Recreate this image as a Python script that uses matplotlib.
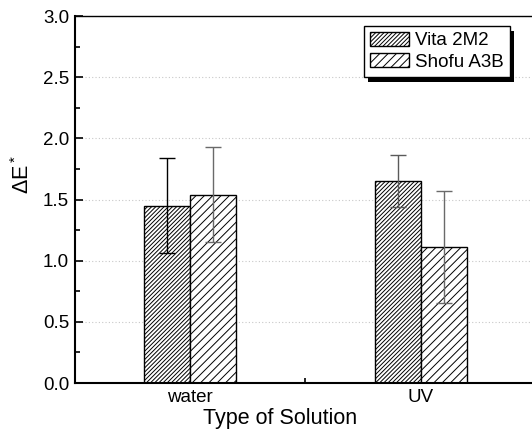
"""
Colour difference (delta E*) of two shade guides after storage in each solution.
"""

import matplotlib
matplotlib.use("Agg")
import matplotlib.pyplot as plt
from matplotlib.patches import Rectangle
from matplotlib.ticker import MultipleLocator, FixedLocator, FormatStrFormatter
import numpy as np

plt.rcParams.update({
    'font.family': ['Liberation Sans', 'DejaVu Sans'],
    'mathtext.fontset': 'custom',
    'mathtext.rm': 'Liberation Sans',
    'mathtext.it': 'Liberation Sans',
    'hatch.linewidth': 0.7,
})

solutions = ["water", "UV"]
shades = ["Vita 2M2", "Shofu A3B"]
vita_mean = [1.45, 1.65]
vita_sd = [0.39, 0.21]
shofu_mean = [1.54, 1.11]
shofu_sd = [0.39, 0.46]

fig = plt.figure(figsize=(5.32, 4.36), dpi=100)
# right edge of the frame runs just past the canvas
ax = fig.add_axes([74.6 / 532, 53 / 436, 461.6 / 532, 367 / 436])

x = np.arange(1, len(solutions) + 1)
w = 0.2
ax.bar(x - w / 2, vita_mean, w, color="white", edgecolor="black",
       linewidth=1, hatch="////////", label=shades[0], zorder=2)
ax.bar(x + w / 2, shofu_mean, w, color="white", edgecolor="black",
       linewidth=1, hatch="////", label=shades[1], zorder=2)

# error bars, first one black, the rest a darker grey
err_cols = [["black", "#5a5a5a"], ["#6a6a6a", "#6a6a6a"]]
for i in range(len(solutions)):
    ax.errorbar(x[i] - w / 2, vita_mean[i], yerr=vita_sd[i], fmt="none",
                ecolor=err_cols[0][i], elinewidth=1, capsize=5.5, capthick=1, zorder=3)
    ax.errorbar(x[i] + w / 2, shofu_mean[i], yerr=shofu_sd[i], fmt="none",
                ecolor=err_cols[1][i], elinewidth=1, capsize=5.5, capthick=1, zorder=3)

ax.set_xlim(0.5, 2.5)
ax.set_ylim(0, 3.0)
ax.set_xticks(x)
ax.set_xticklabels(solutions)
ax.xaxis.set_minor_locator(FixedLocator([1.5, 2.5]))
ax.yaxis.set_major_locator(MultipleLocator(0.5))
ax.yaxis.set_minor_locator(MultipleLocator(0.25))
ax.yaxis.set_major_formatter(FormatStrFormatter("%.1f"))

ax.tick_params(axis="both", which="both", direction="in", top=False, right=False)
ax.tick_params(axis="both", which="major", length=5.5, width=1.2, labelsize=13.5)
ax.tick_params(axis="both", which="minor", length=3.5, width=1.2)
ax.tick_params(axis="x", which="major", pad=4.5)
ax.tick_params(axis="y", which="major", pad=4)

ax.yaxis.grid(True, linestyle=(0, (1, 2)), color="#c8c8c8", linewidth=0.8)
ax.set_axisbelow(True)

for s in ["left", "bottom"]:
    ax.spines[s].set_linewidth(1.5)
ax.spines["top"].set_linewidth(1)
ax.spines["right"].set_visible(False)

ax.set_xlabel("Type of Solution", fontsize=15.5)
ax.set_ylabel(r"$\Delta$E$^*$", fontsize=15.5)
ax.xaxis.set_label_coords(0.446, -0.067)
ax.yaxis.set_label_coords(-0.089, 0.567)

leg = ax.legend(loc="upper left", bbox_to_anchor=(364 / 532, 1 - 26 / 436),
                bbox_transform=fig.transFigure, fontsize=13.5, frameon=True,
                fancybox=False, edgecolor="black", framealpha=1,
                handlelength=2.1, handleheight=0.75, handletextpad=0.32,
                labelspacing=0.2, borderpad=0.32, borderaxespad=0)
leg.get_frame().set_linewidth(1)
leg.set_zorder(6)

# solid drop shadow behind the legend box
fig.canvas.draw()
bb = leg.get_frame().get_window_extent().transformed(fig.transFigure.inverted())
dx, dy = 4 / 532, 5 / 436
shadow = Rectangle((bb.x0 + dx, bb.y0 - dy), bb.width, bb.height,
                   transform=fig.transFigure, facecolor="black",
                   edgecolor="none", zorder=5.5, clip_on=False)
ax.add_artist(shadow)

fig.savefig("out.png", dpi=100)
